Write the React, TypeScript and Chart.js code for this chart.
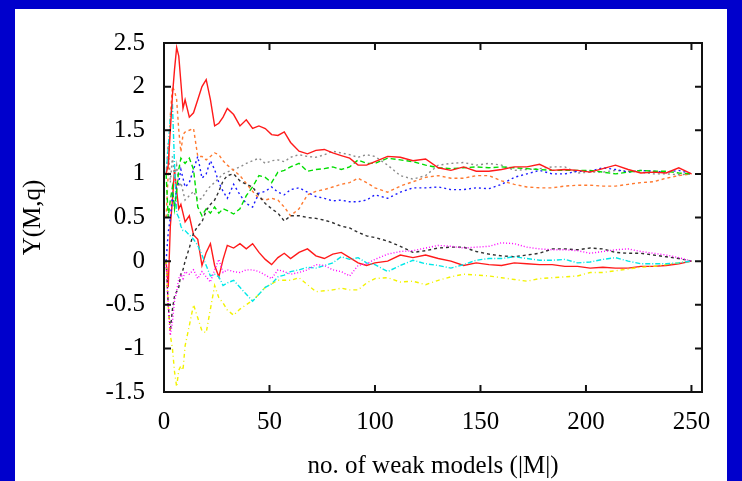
import React, { useEffect, useRef } from "react";
import { Chart, registerables } from "chart.js";

Chart.register(...registerables);

// number of weak models |M|
const M_VALUES = [
  1, 2, 3, 4, 5, 6, 7, 8, 9, 10,
  12, 14, 16, 18, 20, 22, 24, 26, 28, 30,
  33, 36, 39, 42, 45, 48, 51, 54, 57, 60,
  64, 68, 72, 76, 80, 84, 88, 92, 96, 100,
  106, 112, 118, 124, 130, 136, 142, 148, 154, 160, 166, 172, 178, 184, 190,
  196, 202, 208, 214, 220, 226, 232, 238, 244, 250,
];

const RED_A = [
  1.0, 1.1, 1.5, 1.9, 2.2, 2.45, 2.35, 2.05, 1.75, 1.85,
  1.65, 1.7, 1.85, 2.0, 2.08, 1.85, 1.55, 1.58, 1.65, 1.75,
  1.68, 1.55, 1.62, 1.52, 1.55, 1.52, 1.45, 1.44, 1.48, 1.36,
  1.26, 1.23, 1.27, 1.28, 1.24, 1.21, 1.18, 1.1, 1.1, 1.14,
  1.2, 1.19, 1.15, 1.17, 1.07, 1.04, 1.08, 1.03, 1.03, 1.05, 1.08, 1.08, 1.11, 1.04, 1.05,
  1.04, 1.02, 1.06, 1.1, 1.05, 1.01, 1.02, 1.01, 1.07, 1.0,
];
const GREEN = [
  1.0, 0.5, 0.7, 0.85, 0.6, 0.8, 1.05, 1.18, 1.15, 1.12,
  1.18, 1.05, 0.62, 0.52, 0.6, 0.55, 0.62, 0.55, 0.6, 0.58,
  0.54, 0.6, 0.75, 0.85, 0.98, 0.96, 0.9, 1.02, 1.04, 1.08,
  1.12, 1.03, 1.05, 1.06, 1.08, 1.05, 1.08, 1.16, 1.12, 1.12,
  1.18, 1.16, 1.14, 1.1, 1.07, 1.06, 1.07, 1.08, 1.07, 1.08, 1.07, 1.06, 1.05, 1.04, 1.04,
  1.04, 1.04, 1.02, 1.0, 1.02, 1.04, 1.03, 1.03, 1.01, 1.0,
];
const BLUE = [
  0.0, 0.33, 0.5, 0.75, 0.62, 0.85, 0.9, 1.05, 0.95, 0.85,
  0.9, 1.05, 1.2, 0.95, 1.0, 1.15, 1.05, 0.9, 0.8, 0.72,
  0.88, 0.76, 0.66, 0.62, 0.78, 0.8, 0.85, 0.79, 0.76, 0.82,
  0.84, 0.79, 0.74, 0.72, 0.69, 0.7, 0.68, 0.68, 0.7, 0.76,
  0.72, 0.79, 0.84, 0.84, 0.85, 0.82, 0.82, 0.84, 0.83, 0.88, 0.96, 1.0, 1.04, 1.0, 1.0,
  1.03, 1.03, 1.07, 1.05, 1.02, 1.04, 1.03, 1.02, 1.04, 1.0,
];
const MAGENTA = [
  0.0, -0.5, -0.85, -0.7, -0.45, -0.35, -0.2, -0.15, -0.2, -0.12,
  -0.15, -0.1, -0.2, -0.12, -0.18, -0.24, -0.1, 0.02, -0.13, -0.1,
  -0.12, -0.13, -0.1, -0.1, -0.12, -0.16, -0.2, -0.1, -0.12, -0.15,
  -0.13, -0.1, -0.04, -0.05, -0.1, -0.12, -0.17, -0.05, -0.03, 0.02,
  0.08, 0.11, 0.12, 0.15, 0.18, 0.17, 0.15, 0.16, 0.17, 0.21, 0.2, 0.16, 0.14, 0.13, 0.13,
  0.12, 0.09, 0.11, 0.13, 0.14, 0.11, 0.09, 0.07, 0.04, 0.0,
];
const CYAN = [
  1.0, 1.3, 1.65, 1.8, 1.1, 0.55, 0.5, 0.4, 0.35, 0.35,
  0.3, 0.25, 0.18, 0.07, -0.05, -0.17, -0.15, -0.18, -0.28, -0.25,
  -0.22, -0.3, -0.38, -0.46, -0.38, -0.3, -0.26, -0.18, -0.16, -0.12,
  -0.1, -0.07, -0.08, -0.05, -0.02, 0.05, 0.02, 0.04, -0.02, -0.04,
  -0.12, -0.05, 0.01, -0.03, -0.05, -0.08, -0.04, 0.01, 0.03, 0.03, 0.05, 0.03, 0.01, 0.01, 0.02,
  -0.02, -0.01, 0.02, 0.04, 0.0, -0.03, -0.03, -0.03, -0.02, 0.0,
];
const YELLOW = [
  0.0, -0.5, -0.85, -1.0, -1.27, -1.44, -1.25, -1.2, -1.25, -0.97,
  -0.74, -0.5, -0.65, -0.8, -0.82, -0.55, -0.28, -0.42, -0.48, -0.56,
  -0.62, -0.55, -0.5, -0.45, -0.38, -0.3, -0.26, -0.22, -0.22, -0.22,
  -0.19, -0.27, -0.35, -0.34, -0.33, -0.31, -0.33, -0.33, -0.25, -0.2,
  -0.19, -0.24, -0.23, -0.27, -0.22, -0.18, -0.15, -0.16, -0.17, -0.19, -0.21, -0.23, -0.2, -0.19, -0.18,
  -0.17, -0.13, -0.13, -0.11, -0.09, -0.07, -0.06, -0.04, -0.02, 0.0,
];
const BLACK = [
  0.0, -0.5, -0.8, -0.55, -0.4, -0.35, -0.3, -0.15, -0.1, 0.0,
  0.15, 0.32, 0.4, 0.45, 0.58, 0.65, 0.7, 0.8, 0.92, 0.98,
  1.0, 0.92, 0.88, 0.85, 0.75, 0.66, 0.6, 0.55, 0.46, 0.52,
  0.52, 0.5, 0.49, 0.47, 0.44, 0.4, 0.38, 0.33, 0.29, 0.27,
  0.23, 0.17, 0.1, 0.12, 0.15, 0.16, 0.16, 0.11, 0.08, 0.06, 0.05, 0.07, 0.09, 0.14, 0.14,
  0.13, 0.15, 0.14, 0.1, 0.09, 0.09, 0.07, 0.05, 0.03, 0.0,
];
const ORANGE = [
  0.5, 1.0, 1.67, 2.0, 1.95, 1.85, 1.5, 1.25, 1.45, 1.48,
  1.5, 1.52, 1.2, 1.2, 1.16, 1.2, 1.24, 1.22, 1.15, 1.1,
  1.04, 0.98, 0.89, 0.8, 0.72, 0.7, 0.72, 0.7, 0.62, 0.52,
  0.6, 0.76, 0.8, 0.82, 0.85, 0.88, 0.9, 0.95, 0.9, 0.84,
  0.79, 0.86, 0.91, 0.96, 0.98, 0.95, 0.95, 0.98, 0.98, 0.92, 0.88, 0.85, 0.84, 0.84, 0.86,
  0.87, 0.87, 0.86, 0.86, 0.88, 0.9, 0.91, 0.95, 0.98, 1.0,
];
const GRAY = [
  1.0, 1.35, 0.9, 1.2, 0.95, 1.1, 0.85, 0.9, 0.8, 0.7,
  0.75, 0.8, 0.7, 0.72, 0.8, 0.86, 0.9, 0.95, 1.0, 1.02,
  1.05, 1.08, 1.12, 1.15, 1.18, 1.12, 1.15, 1.16, 1.14, 1.19,
  1.22, 1.2, 1.19, 1.22, 1.26, 1.24, 1.22, 1.19, 1.22, 1.2,
  1.1, 0.98, 0.94, 0.98, 1.1, 1.12, 1.13, 1.1, 1.12, 1.1, 1.04, 1.05, 1.06, 1.08, 1.08,
  1.01, 1.02, 1.02, 1.04, 1.03, 1.02, 1.0, 1.0, 0.99, 1.0,
];
const RED_B = [
  0.0, -0.3, 0.4, 0.7, 1.05, 0.8, 0.6, 0.65, 0.55, 0.45,
  0.52, 0.3, 0.25, -0.05, 0.1, 0.2, -0.05, -0.18, 0.02, 0.18,
  0.15, 0.2, 0.14, 0.2, 0.1, 0.02, -0.04, 0.04, 0.09, 0.03,
  0.1, 0.14, 0.06, 0.03, 0.08, 0.1, 0.04, -0.02, -0.05, -0.02,
  0.0, 0.07, 0.04, 0.07, 0.03, 0.0, -0.05, -0.02, -0.04, -0.05, -0.02, -0.03, -0.04, -0.04, -0.06,
  -0.06, -0.08, -0.07, -0.08, -0.08, -0.06, -0.06, -0.05, -0.03, 0.0,
];

const X_TICKS = [0, 50, 100, 150, 200, 250];
const Y_TICKS = [-1.5, -1, -0.5, 0, 0.5, 1, 1.5, 2, 2.5];
const X_TITLE = "no. of weak models (|M|)";
const Y_TITLE = "Y(M,q)";

const SERIES = [
  { values: RED_A, color: "#ff1a1a", dash: [] as number[] },
  { values: GREEN, color: "#00dd00", dash: [5, 3] },
  { values: BLUE, color: "#1a1aff", dash: [2, 3] },
  { values: MAGENTA, color: "#ff00ff", dash: [1, 2] },
  { values: CYAN, color: "#00e8e8", dash: [5, 2, 1, 2] },
  { values: YELLOW, color: "#f2f200", dash: [4, 3, 1, 3] },
  { values: BLACK, color: "#303030", dash: [3, 3] },
  { values: ORANGE, color: "#ff7a30", dash: [3, 3] },
  { values: GRAY, color: "#8c8c8c", dash: [2, 3] },
  { values: RED_B, color: "#ff1a1a", dash: [] as number[] },
];

const FONT = { family: "'Liberation Serif', 'DejaVu Serif', serif", size: 25 };
const TICK_LEN = 7;

const framePlugin = {
  id: "frame",
  afterDatasetsDraw(chart: any) {
    const { ctx, chartArea: a, scales } = chart;
    ctx.save();
    ctx.strokeStyle = "#111";
    ctx.lineWidth = 2;
    ctx.setLineDash([]);
    ctx.strokeRect(a.left, a.top, a.right - a.left, a.bottom - a.top);
    ctx.beginPath();
    X_TICKS.forEach((v) => {
      const x = scales.x.getPixelForValue(v);
      ctx.moveTo(x, a.bottom);
      ctx.lineTo(x, a.bottom - TICK_LEN);
      ctx.moveTo(x, a.top);
      ctx.lineTo(x, a.top + TICK_LEN);
    });
    Y_TICKS.forEach((v) => {
      const y = scales.y.getPixelForValue(v);
      ctx.moveTo(a.left, y);
      ctx.lineTo(a.left + TICK_LEN, y);
      ctx.moveTo(a.right, y);
      ctx.lineTo(a.right - TICK_LEN, y);
    });
    ctx.stroke();
    ctx.restore();
  },
};

export default function App() {
  const ref = useRef<HTMLCanvasElement | null>(null);

  useEffect(() => {
    if (!ref.current) return;
    const chart = new Chart(ref.current, {
      type: "line",
      data: {
        datasets: SERIES.map((s) => ({
          data: M_VALUES.map((m, i) => ({ x: m, y: s.values[i] })),
          borderColor: s.color,
          borderWidth: 1.4,
          borderDash: s.dash,
          pointRadius: 0,
          fill: false,
          tension: 0,
        })),
      },
      options: {
        animation: false,
        responsive: false,
        maintainAspectRatio: false,
        layout: { padding: { left: 0, top: 33, right: 25, bottom: 0 } },
        plugins: { legend: { display: false }, tooltip: { enabled: false } },
        scales: {
          x: {
            type: "linear",
            min: 0,
            max: 255,
            afterBuildTicks: (s: any) => {
              s.ticks = X_TICKS.map((v) => ({ value: v }));
            },
            afterFit: (s: any) => {
              s.height = 89;
            },
            grid: { display: false, drawTicks: false },
            border: { display: false },
            ticks: {
              font: FONT,
              color: "#000",
              padding: 15,
              maxRotation: 0,
              autoSkip: false,
              callback: (v: any) => String(v),
            },
            title: {
              display: true,
              text: X_TITLE,
              font: FONT,
              color: "#000",
              padding: { top: 0, bottom: 0 },
            },
          },
          y: {
            type: "linear",
            min: -1.5,
            max: 2.5,
            afterBuildTicks: (s: any) => {
              s.ticks = Y_TICKS.map((v) => ({ value: v }));
            },
            afterFit: (s: any) => {
              s.width = 149;
            },
            grid: { display: false, drawTicks: false },
            border: { display: false },
            ticks: {
              font: FONT,
              color: "#000",
              padding: 19,
              autoSkip: false,
              callback: (v: any) => String(v),
            },
            title: {
              display: true,
              text: Y_TITLE,
              font: FONT,
              color: "#000",
              padding: { top: 3, bottom: 0 },
            },
          },
        },
      },
      plugins: [framePlugin],
    });
    return () => chart.destroy();
  }, []);

  return (
    <div
      style={{
        position: "fixed",
        left: 0,
        top: 0,
        width: 742,
        height: 481,
        background: "#0000cc",
        overflow: "hidden",
      }}
    >
      <div
        style={{
          position: "absolute",
          left: 15,
          top: 9,
          width: 712,
          height: 472,
          background: "#ffffff",
        }}
      >
        <canvas ref={ref} width={712} height={472} style={{ display: "block", width: 712, height: 472 }} />
      </div>
    </div>
  );
}
